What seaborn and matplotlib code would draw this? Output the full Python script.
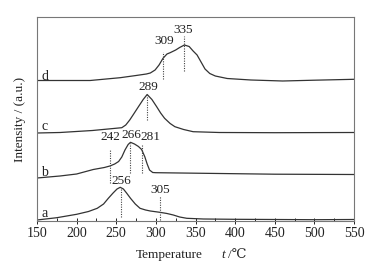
import numpy as np
import matplotlib
matplotlib.use("Agg")
import matplotlib.pyplot as plt
from matplotlib.ticker import MultipleLocator
import seaborn as sns
import pandas as pd

# curve values (offset intensity, arbitrary units)
temp_a = [150, 175, 200, 215, 226, 234, 240, 246, 251, 255, 259, 263, 268, 274, 280, 287, 293, 305, 314, 322,
          330, 339, 360, 400, 450, 500, 550]
int_a = [1.0, 3.3, 6.7, 9.5, 12.7, 17.0, 22.7, 28.0, 32.0, 33.7, 32.0, 28.0, 22.7, 17.0, 12.7, 11.0, 10.0, 8.7,
         7.5, 6.0, 4.0, 2.7, 2.0, 1.7, 1.5, 1.3, 1.5]

temp_b = [150, 179, 200, 221, 235, 242, 248, 253, 257, 261, 265, 268, 273, 278, 282, 286, 289, 292, 296, 300,
          330, 400, 450, 550]
int_b = [43.0, 45.0, 47.0, 51.5, 53.5, 55.0, 57.0, 59.5, 64.0, 71.0, 76.5, 78.7, 77.0, 74.5, 71.5, 64.3, 57.0,
         51.0, 48.5, 48.3, 48.0, 47.3, 46.8, 46.5]

temp_c = [150, 179, 220, 257, 262, 267, 272, 278, 284, 289, 295, 301, 306, 311, 318, 324, 335, 347, 380, 450, 550]
int_c = [88.0, 88.5, 90.5, 93.3, 96.0, 101.0, 107.0, 114.3, 121.5, 126.5, 121.5, 114.3, 108.0, 102.7, 97.5,
         94.3, 91.5, 89.3, 88.5, 88.3, 88.5]

temp_d = [150, 217, 255, 275, 288, 293, 299, 304, 309, 314, 318, 325, 330, 336, 342, 347, 352, 357, 362, 368,
          375, 390, 420, 460, 500, 550]
int_d = [140.5, 140.5, 143.3, 145.5, 147.0, 148.0, 151.0, 156.0, 162.7, 167.0, 168.3, 171.0, 173.5, 176.0,
         174.5, 170.0, 166.0, 159.0, 152.0, 147.5, 145.0, 142.5, 141.0, 140.0, 140.8, 141.7]

curve_names = ["a", "b", "c", "d"]
name_y = [7.7, 48.3, 95.0, 145.0]

# peak markers
peak_labels = ["256", "305", "242", "266", "281", "289", "309", "335"]
peak_x = [256, 305, 242, 267, 282, 289, 309, 335]
peak_lo = [4.3, 1.5, 38.3, 47.7, 47.7, 101.0, 142.0, 150.0]
peak_hi = [32.7, 25.0, 71.0, 77.7, 76.0, 126.0, 169.0, 185.0]
label_x = [257, 306, 242, 268.5, 293, 290, 310, 335]
label_y = [39.5, 31.0, 83.5, 86.0, 83.5, 133.5, 180.0, 191.0]

sns.set_style("ticks")
plt.rcParams["font.family"] = ["Liberation Serif", "DejaVu Serif", "DejaVu Sans"]

frames = []
for name, t, v in zip(curve_names, [temp_a, temp_b, temp_c, temp_d], [int_a, int_b, int_c, int_d]):
    frames.append(pd.DataFrame({"temp": t, "intensity": v, "curve": name}))
df = pd.concat(frames, ignore_index=True)

fig = plt.figure(figsize=(3.72, 2.64), dpi=100)
ax = fig.add_axes([37 / 372, 1 - 221 / 264, (354 - 37) / 372, (221 - 17) / 264])

sns.lineplot(data=df, x="temp", y="intensity", hue="curve", units="curve", estimator=None,
             palette=["#333333"] * 4, linewidth=0.9, legend=False, ax=ax)

for lab, px, lo, hi, lx, ly in zip(peak_labels, peak_x, peak_lo, peak_hi, label_x, label_y):
    ax.plot([px, px], [lo, hi], color="#444444", linestyle=(0, (1, 1.2)), linewidth=0.8)
    ax.text(lx, ly, lab, ha="center", va="center", fontsize=9.5, color="#222222")

for name, ny in zip(curve_names, name_y):
    ax.text(160, ny, name, ha="center", va="center", fontsize=10, color="#222222")

ax.set_xlim(150, 550)
ax.set_ylim(0, 204)
ax.set_yticks([])
ax.xaxis.set_major_locator(MultipleLocator(50))
ax.xaxis.set_minor_locator(MultipleLocator(25))
ax.tick_params(axis="x", which="major", direction="inout", length=5, width=0.7, labelsize=10,
               colors="#222222", pad=2)
ax.tick_params(axis="x", which="minor", direction="in", length=2.5, width=0.7)
for sp in ax.spines.values():
    sp.set_color("#777777")
    sp.set_linewidth(0.8)

ax.set_xlabel("")
ax.set_ylabel("Intensity / (a.u.)", fontsize=9.5, color="#222222", labelpad=8)
fig.text(169 / 372, 1 - 255 / 264, "Temperature", ha="center", va="center", fontsize=9.5, color="#222222")
fig.text(223 / 372, 1 - 255 / 264, "t", ha="center", va="center", fontsize=9.5, color="#222222",
         fontstyle="italic")
fig.text(237 / 372, 1 - 255 / 264, "/℃", ha="center", va="center", fontsize=9.5, color="#222222")

fig.savefig("out.png", dpi=100)
